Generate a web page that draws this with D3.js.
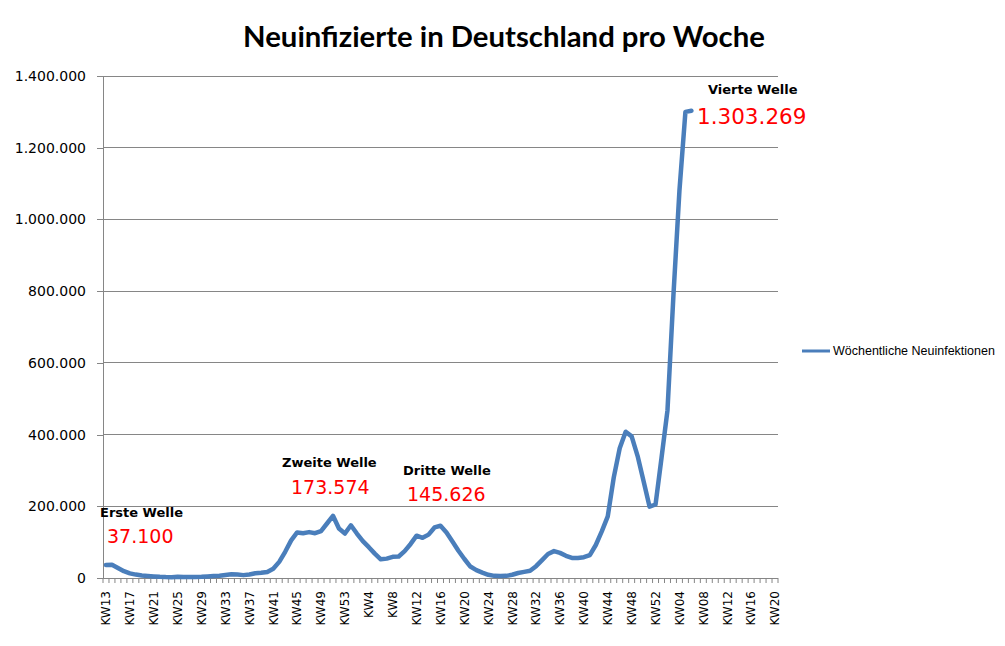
<!DOCTYPE html>
<html><head><meta charset="utf-8">
<script src="https://cdn.jsdelivr.net/npm/d3@7"></script>
<style>
html,body{margin:0;padding:0;background:#fff;}
svg{display:block;}
</style></head>
<body>
<script>
// Categories: calendar weeks KW13/2020 .. KW20/2022
const weeks2020 = d3.range(13, 54).map(w => "KW" + w);
const weeks2021 = d3.range(1, 53).map(w => "KW" + w);
const weeks2022 = d3.range(1, 21).map(w => "KW" + (w < 10 ? "0" + w : w));
const categories = [...weeks2020, ...weeks2021, ...weeks2022];

// Weekly new infections
const values = [
  36000, 37100, 28000, 19000, 13000, 9500, 7000, 5500, 4200, 3200,
  2600, 2400, 3500, 3000, 2500, 2800, 3300, 4500, 5500, 6500,
  8500, 10500, 9500, 8000, 10000, 13000, 14500, 17000, 26000, 45000,
  73000, 105000, 127000, 125000, 128000, 125000, 131000, 152000, 173574, 138000,
  124000, 147000, 124000, 103000, 86000, 68000, 52000, 54000, 59000, 60000,
  75000, 95000, 118000, 112000, 121000, 141000, 145626, 127000, 102000, 76000,
  53000, 32000, 22000, 15000, 9000, 6000, 5500, 6000, 9000, 14000,
  17000, 20000, 33000, 50000, 67000, 75000, 70000, 62000, 56000, 56000,
  58000, 64000, 92000, 130000, 172000, 280000, 362000, 408000, 395000, 340000,
  270000, 199000, 205000, 335000, 468000, 790000, 1080000, 1300000, 1303269
];

const yTicks = [0, 200000, 400000, 600000, 800000, 1000000, 1200000, 1400000];
const seriesName = "Wöchentliche Neuinfektionen";
const chartTitle = "Neuinfizierte in Deutschland pro Woche";

const waveNames  = ["Erste Welle", "Zweite Welle", "Dritte Welle", "Vierte Welle"];
const waveLabels = ["37.100", "173.574", "145.626", "1.303.269"];

const W = 1005, H = 646;
const mLeft = 103, mRight = 778, mTop = 76, mBottom = 578;
const grid = "#868686";

const svg = d3.select("body").append("svg").attr("width", W).attr("height", H);

const idx = d3.range(categories.length);
const x = d3.scaleBand().domain(idx).range([mLeft, mRight]).padding(0);
const y = d3.scaleLinear().domain([0, 1400000]).range([mBottom, mTop]);
const cx = i => x(i) + x.bandwidth() / 2;
const fmt = v => d3.format(",")(v).replace(/,/g, ".");

// title
svg.append("text").attr("x", 504).attr("y", 47).attr("text-anchor", "middle")
  .style("font-family", "Lato, 'DejaVu Sans', sans-serif").style("font-weight", "bold")
  .style("font-size", "29.3px").attr("fill", "#000").text(chartTitle);

// gridlines
svg.append("g").selectAll("line").data(yTicks.filter(d => d > 0)).join("line")
  .attr("x1", mLeft).attr("x2", mRight).attr("y1", d => y(d)).attr("y2", d => y(d))
  .attr("stroke", grid).attr("stroke-width", 1).attr("shape-rendering", "crispEdges");

// y axis
const yAxis = d3.axisLeft(y).tickValues(yTicks).tickSize(6).tickSizeOuter(0).tickFormat(fmt).tickPadding(11);
const gy = svg.append("g").attr("transform", `translate(${mLeft},0)`).call(yAxis);
gy.select(".domain").attr("stroke", grid).attr("shape-rendering", "crispEdges");
gy.selectAll(".tick line").attr("stroke", grid).attr("shape-rendering", "crispEdges");
gy.selectAll("text").style("font-family", "'DejaVu Sans', sans-serif").style("font-size", "14px").attr("fill", "#000");

// x axis line + ticks at category boundaries
svg.append("line").attr("x1", mLeft).attr("x2", mRight).attr("y1", mBottom).attr("y2", mBottom)
  .attr("stroke", grid).attr("shape-rendering", "crispEdges");
const bounds = idx.map(i => x(i)).concat([mRight]);
svg.append("g").selectAll("line").data(bounds).join("line")
  .attr("x1", d => d).attr("x2", d => d).attr("y1", mBottom).attr("y2", mBottom + 5)
  .attr("stroke", grid).attr("stroke-width", 1);

// x labels (every 4th category)
svg.append("g").selectAll("text").data(idx.filter(i => i % 4 === 0)).join("text")
  .attr("transform", i => `translate(${cx(i)},${mBottom + 13}) rotate(-90)`)
  .attr("text-anchor", "end").attr("dy", "0.36em")
  .style("font-family", "'DejaVu Sans', sans-serif").style("font-size", "12px").attr("fill", "#000")
  .text(i => categories[i]);

// line
const pts = values.map((v, i) => ({i, v}));
const line = d3.line().x(d => cx(d.i)).y(d => y(d.v));
svg.append("path").datum(pts).attr("d", line).attr("fill", "none")
  .attr("stroke", "#4a7ebb").attr("stroke-width", 4.5)
  .attr("stroke-linejoin", "round").attr("stroke-linecap", "round");

// annotations
const annPos = [
  {nx: 100, ny: 517, vx: 107, vy: 543, vs: 19},
  {nx: 282, ny: 467, vx: 291, vy: 494, vs: 19},
  {nx: 403, ny: 475, vx: 407, vy: 501, vs: 19},
  {nx: 708, ny: 94,  vx: 697, vy: 124, vs: 21.5}
];
waveNames.forEach((name, i) => {
  const p = annPos[i];
  svg.append("text").attr("x", p.nx).attr("y", p.ny)
    .style("font-family", "'DejaVu Sans', sans-serif").style("font-weight", "bold")
    .style("font-size", "13px").attr("fill", "#000").text(name);
  svg.append("text").attr("x", p.vx).attr("y", p.vy)
    .style("font-family", "'DejaVu Sans', sans-serif").style("font-size", p.vs + "px")
    .attr("fill", "#ff0000").text(waveLabels[i]);
});

// legend
svg.append("line").attr("x1", 802).attr("x2", 830).attr("y1", 351).attr("y2", 351)
  .attr("stroke", "#4a7ebb").attr("stroke-width", 3);
svg.append("text").attr("x", 833).attr("y", 355)
  .style("font-family", "'Liberation Sans', sans-serif").style("font-size", "12.5px")
  .attr("fill", "#000").text(seriesName);
</script>
</body></html>
